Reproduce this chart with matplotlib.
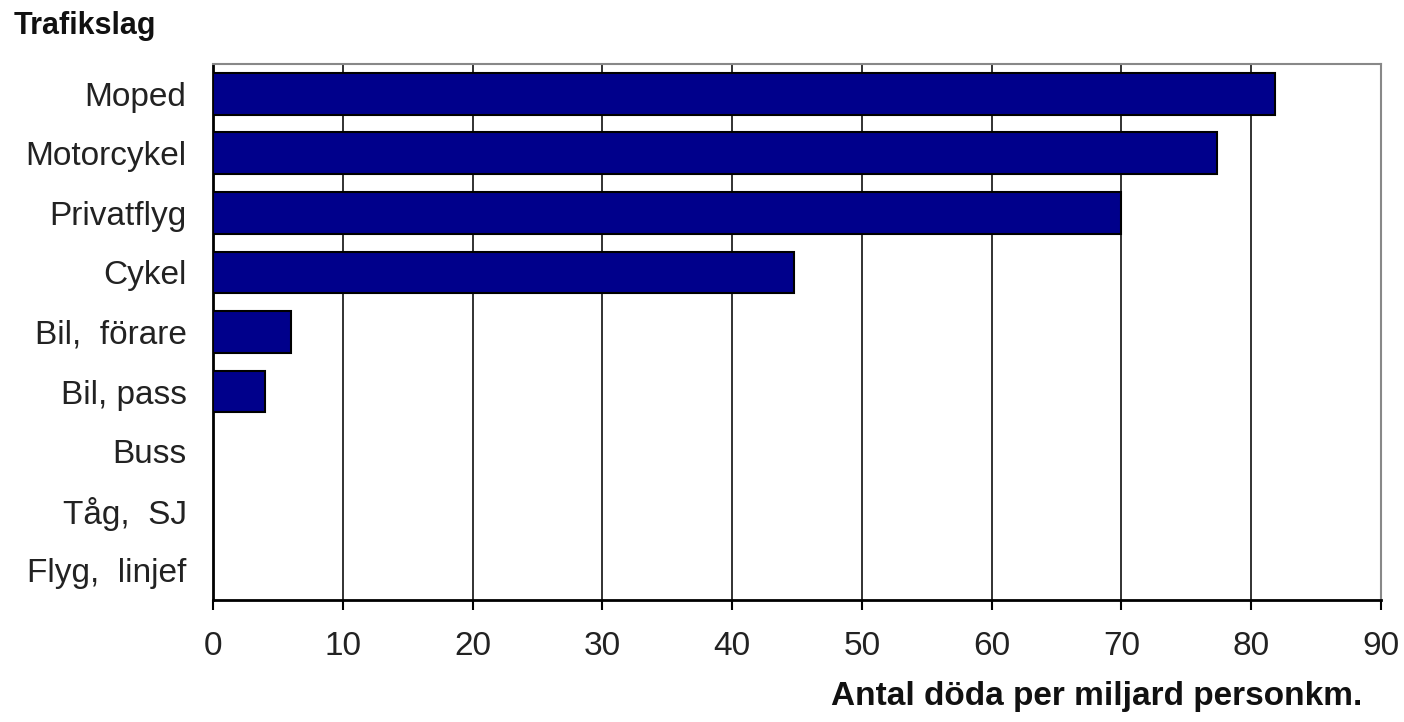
import matplotlib
matplotlib.use("Agg")
import matplotlib.pyplot as plt

# ── DATA ──────────────────────────────────────────────────────────────────────
categories = ["Moped", "Motorcykel", "Privatflyg", "Cykel", "Bil,  förare",
              "Bil, pass", "Buss", "Tåg,  SJ", "Flyg,  linjef"]
values = [81.8, 77.4, 70.0, 44.8, 6.0, 4.0, 0.0, 0.0, 0.0]
xticks = [0, 10, 20, 30, 40, 50, 60, 70, 80, 90]

plt.rcParams["font.family"] = ["Liberation Sans", "DejaVu Sans"]

fig = plt.figure(figsize=(14.04, 7.22), dpi=100, facecolor="white")
ax = fig.add_axes([213 / 1404, 1 - 600 / 722, (1381 - 213) / 1404, (600 - 64) / 722])

ypos = list(range(len(categories)))
ax.barh(ypos, values, height=0.7, color="#00008B", edgecolor="black",
        linewidth=1.5, zorder=3)
ax.set_ylim(len(categories) - 0.5, -0.5)
ax.set_xlim(0, 90)

ax.set_xticks(xticks)
ax.set_xticklabels([str(t) for t in xticks], fontsize=24, color="#222222")
ax.set_yticks(ypos)
ax.set_yticklabels(categories, fontsize=24, color="#222222")
ax.tick_params(axis="y", length=0, pad=19)
ax.tick_params(axis="x", length=7, width=1.5, direction="out", pad=15)

ax.grid(axis="x", color="#222222", linewidth=1.3, zorder=1)
for s in ["top", "right"]:
    ax.spines[s].set_color("#888888")
    ax.spines[s].set_linewidth(1.5)
for s in ["left", "bottom"]:
    ax.spines[s].set_color("black")
    ax.spines[s].set_linewidth(2)

fig.text(14 / 1404, 1 - 26 / 722, "Trafikslag", fontsize=22, fontweight="bold",
         ha="left", va="center", color="#111111")
fig.text(1362 / 1404, 1 - 697 / 722, "Antal döda per miljard personkm.",
         fontsize=24, fontweight="bold", ha="right", va="center", color="#111111")

fig.savefig("out.png", dpi=100, facecolor="white")
